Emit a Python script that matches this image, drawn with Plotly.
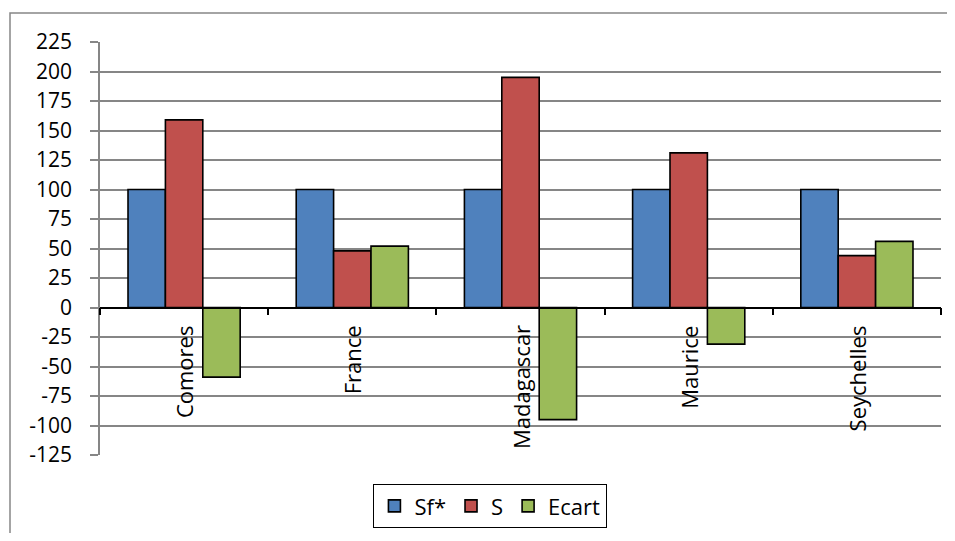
import plotly.graph_objects as go

categories = ["Comores", "France", "Madagascar", "Maurice", "Seychelles"]
sf_values = [100, 100, 100, 100, 100]
s_values = [159, 48, 195, 131, 44]
ecart_values = [-59, 52, -95, -31, 56]
y_ticks = list(range(-125, 226, 25))
y_tick_labels = [str(v) for v in y_ticks]

# page body adds an 8px margin, so the figure is sized/placed to compensate
W, H = 939, 525
L, R, T, B = 92, 6, 34, 78
y_min, y_max = -125, 225
zero_pos = (0 - y_min) / (y_max - y_min)

FONT = "Open Sans"
line_style = dict(color="#000000", width=1.6)

fig = go.Figure()
for name, vals, col in [("Sf*", sf_values, "#4F81BD"),
                        ("S", s_values, "#C0504D"),
                        ("Ecart", ecart_values, "#9BBB59")]:
    fig.add_trace(go.Bar(x=categories, y=vals, name=name,
                         marker=dict(color=col, line=line_style)))

for c in categories:
    fig.add_annotation(x=c, y=0, xref="x", yref="y", text=c, showarrow=False,
                       textangle=-90, yanchor="top", xanchor="center", yshift=-16,
                       font=dict(family=FONT, size=22, color="#000000"))

pw = W - L - R
ph = H - T - B
fig.add_shape(type="rect", xref="paper", yref="paper",
              x0=(2 - L) / pw, x1=(W + 20 - L) / pw,
              y0=-(H + 20 - (H - B)) / ph, y1=1 + (T - 5) / ph,
              line=dict(color="#868686", width=1.5), layer="below")

fig.update_layout(
    width=W, height=H,
    margin=dict(l=L, r=R, t=T, b=B, autoexpand=False),
    paper_bgcolor="white", plot_bgcolor="white",
    barmode="group", bargap=0.333, bargroupgap=0,
    font=dict(family=FONT, size=21, color="#000000"),
    showlegend=True,
    legend=dict(orientation="h", x=0.464, xanchor="center", y=-0.07, yanchor="top",
                bordercolor="#000000", borderwidth=1.2,
                font=dict(family=FONT, size=22, color="#000000"),
                itemwidth=30, tracegroupgap=0),
    xaxis=dict(anchor="free", position=zero_pos, showline=True, linecolor="#000000",
               linewidth=1.5, ticks="outside", tickson="boundaries", ticklen=7,
               tickcolor="#000000", tickwidth=1.5, showticklabels=False,
               showgrid=False, zeroline=False, automargin=False),
    yaxis=dict(range=[y_min, y_max], tickvals=y_ticks, ticktext=y_tick_labels,
               showline=True, automargin=False,
               linecolor="#868686", linewidth=1.5, ticks="outside", ticklen=8,
               tickcolor="#868686", tickwidth=1.5, showgrid=True,
               gridcolor="#868686", gridwidth=1.5, zeroline=False,
               ticklabelstandoff=14,
               tickfont=dict(family=FONT, size=21, color="#000000")),
)

fig.write_html("out.html")
